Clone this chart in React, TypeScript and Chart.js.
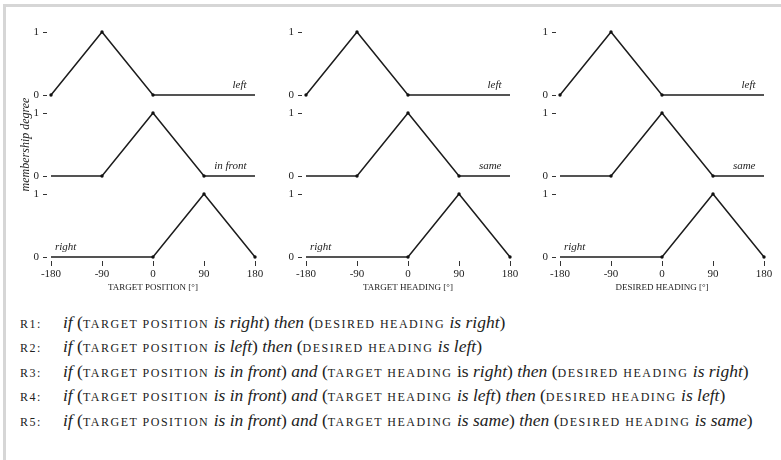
import React, { useEffect, useRef } from "react";
import { Chart, registerables } from "chart.js";
Chart.register(...registerables);

// ---- data ----
const xTickValues = [-180, -90, 0, 90, 180];
const yTickValues = [0, 1];

const leftX = [-180, -90, 0, 180];
const leftY = [0, 1, 0, 0];
const leftDots = [1, 1, 1, 0];

const midX = [-180, -90, 0, 90, 180];
const midY = [0, 0, 1, 0, 0];
const midDots = [0, 1, 1, 1, 0];

const rightX = [-180, 0, 90, 180];
const rightY = [0, 0, 1, 0];
const rightDots = [0, 1, 1, 1];

const axisTitles = ["target position [°]", "target heading [°]", "desired heading [°]"];
const setLabelsPosition = ["left", "in front", "right"];
const setLabelsHeading = ["left", "same", "right"];
const yAxisTitle = "membership degree";

// ---- layout ----
const FONT = "'Liberation Serif', 'Times New Roman', serif";
const colLeft = [51, 306, 560];
const rowTop = [32, 113, 194];
const PLOT_W = 204;
const PLOT_H = 63;

type Series = { x: number[]; y: number[]; d: number[] };
const seriesByRow: Series[] = [
  { x: leftX, y: leftY, d: leftDots },
  { x: midX, y: midY, d: midDots },
  { x: rightX, y: rightY, d: rightDots },
];

function Panel({ col, row }: { col: number; row: number }) {
  const ref = useRef<HTMLCanvasElement>(null);
  const isBottom = row === 2;
  const hasYTitle = col === 0 && row === 1;
  const yW = col === 0 ? 32 : 30;
  const padTop = hasYTitle ? 26 : 14;
  const padBottom = isBottom ? 0 : hasYTitle ? 26 : 14;
  const xH = isBottom ? 40 : 0;
  const padRight = 16;
  const width = yW + PLOT_W + padRight;
  const height = padTop + PLOT_H + padBottom + xH;
  const left = colLeft[col] - yW;
  const top = rowTop[row] - padTop;

  useEffect(() => {
    const s = seriesByRow[row];
    const data = s.x.map((x, i) => ({ x, y: s.y[i] }));
    const labels = col === 0 ? setLabelsPosition : setLabelsHeading;
    const labelText = labels[row];
    const labelPlugin = {
      id: "panelLabel",
      afterDatasetsDraw(chart: any) {
        const { ctx } = chart;
        const xs = chart.scales.x;
        const ys = chart.scales.y;
        ctx.save();
        ctx.font = `italic 11px ${FONT}`;
        ctx.fillStyle = "#222";
        ctx.textBaseline = "alphabetic";
        const atLeft = row === 2;
        ctx.textAlign = atLeft ? "left" : "right";
        ctx.fillText(labelText, xs.getPixelForValue(atLeft ? -173 : 165), ys.getPixelForValue(0) - 7.5);
        ctx.restore();
      },
    };
    const chart = new Chart(ref.current as HTMLCanvasElement, {
      type: "line",
      data: {
        datasets: [
          {
            data,
            borderColor: "#1c1c1c",
            borderWidth: 1.5,
            pointRadius: s.d.map((v) => (v ? 1.7 : 0)),
            pointBackgroundColor: "#111",
            pointBorderWidth: 0,
            pointHoverRadius: 0,
            clip: false as any,
            tension: 0,
            fill: false,
          },
        ],
      },
      plugins: [labelPlugin],
      options: {
        animation: false,
        responsive: false,
        events: [],
        layout: { autoPadding: false, padding: { top: padTop, right: padRight, bottom: padBottom, left: 0 } },
        plugins: { legend: { display: false }, tooltip: { enabled: false } },
        scales: {
          x: {
            type: "linear",
            min: -180,
            max: 180,
            display: isBottom,
            afterBuildTicks: (sc: any) => {
              sc.ticks = xTickValues.map((v) => ({ value: v }));
            },
            afterFit: (sc: any) => {
              sc.height = xH;
            },
            grid: {
              display: true,
              drawOnChartArea: false,
              drawTicks: true,
              tickLength: 9,
              tickBorderDash: [5, 4],
              tickBorderDashOffset: 5,
              tickColor: "#333",
              tickWidth: 1,
            },
            border: { display: false },
            ticks: {
              font: { family: FONT, size: 11 },
              color: "#222",
              padding: 2,
              maxRotation: 0,
              autoSkip: false,
            },
            title: {
              display: true,
              text: axisTitles[col].toUpperCase(),
              font: { family: FONT, size: 9 },
              color: "#222",
              padding: { top: 0, bottom: 4 },
            },
          },
          y: {
            type: "linear",
            min: 0,
            max: 1,
            afterBuildTicks: (sc: any) => {
              sc.ticks = yTickValues.map((v) => ({ value: v }));
            },
            afterFit: (sc: any) => {
              sc.width = yW;
            },
            grid: {
              display: true,
              drawOnChartArea: false,
              drawTicks: true,
              tickLength: 8,
              tickBorderDash: [4, 4],
              tickBorderDashOffset: 0,
              tickColor: "#333",
              tickWidth: 1,
            },
            border: { display: false },
            ticks: {
              font: { family: FONT, size: 11 },
              color: "#222",
              padding: 4,
            },
            title: {
              display: hasYTitle,
              text: yAxisTitle,
              font: { family: FONT, size: 12, style: "italic" },
              color: "#222",
              padding: { top: 0, bottom: 0 },
            },
          },
        },
      },
    } as any);
    return () => chart.destroy();
  }, []);

  return (
    <canvas
      ref={ref}
      width={width}
      height={height}
      style={{ position: "absolute", left, top, width, height }}
    />
  );
}

const capsStyle: React.CSSProperties = { textTransform: "uppercase", fontSize: 12, letterSpacing: 1.5 };
const S = ({ children }: { children: React.ReactNode }) => <span style={capsStyle}>{children}</span>;
const I = ({ children }: { children: React.ReactNode }) => <i>{children}</i>;

function Rule({ label, children }: { label: string; children: React.ReactNode }) {
  return (
    <div style={{ whiteSpace: "nowrap", height: 24.4, lineHeight: "24.4px" }}>
      <span style={{ ...capsStyle, display: "inline-block", width: 43 }}>{label}</span>
      {children}
    </div>
  );
}

export default function App() {
  const panels = [];
  for (let r = 0; r < 3; r++) for (let c = 0; c < 3; c++) panels.push(<Panel key={`${r}-${c}`} col={c} row={r} />);
  return (
    <div
      style={{
        position: "absolute",
        left: 0,
        top: 0,
        width: 781,
        height: 460,
        overflow: "hidden",
        background: "#fff",
        fontFamily: FONT,
        color: "#222",
      }}
    >
      <div
        style={{
          position: "absolute",
          left: 3,
          top: 4,
          width: 776,
          height: 470,
          borderTop: "3px solid #d6d6d6",
          borderLeft: "3px solid #d6d6d6",
        }}
      />
      {panels}
      <div style={{ position: "absolute", left: 20, top: 310, fontSize: 17.5 }}>
        <Rule label="r1:">
          <I>if</I> (<S>target position</S> <I>is right</I>) <I>then</I> (<S>desired heading</S> <I>is right</I>)
        </Rule>
        <Rule label="r2:">
          <I>if</I> (<S>target position</S> <I>is left</I>) <I>then</I> (<S>desired heading</S> <I>is left</I>)
        </Rule>
        <Rule label="r3:">
          <I>if</I> (<S>target position</S> <I>is in front</I>) <I>and</I> (<S>target heading</S> is <I>right</I>) <I>then</I> (<S>desired heading</S> <I>is right</I>)
        </Rule>
        <Rule label="r4:">
          <I>if</I> (<S>target position</S> <I>is in front</I>) <I>and</I> (<S>target heading</S> <I>is left</I>) <I>then</I> (<S>desired heading</S> <I>is left</I>)
        </Rule>
        <Rule label="r5:">
          <I>if</I> (<S>target position</S> <I>is in front</I>) <I>and</I> (<S>target heading</S> <I>is same</I>) <I>then</I> (<S>desired heading</S> <I>is same</I>)
        </Rule>
      </div>
    </div>
  );
}
